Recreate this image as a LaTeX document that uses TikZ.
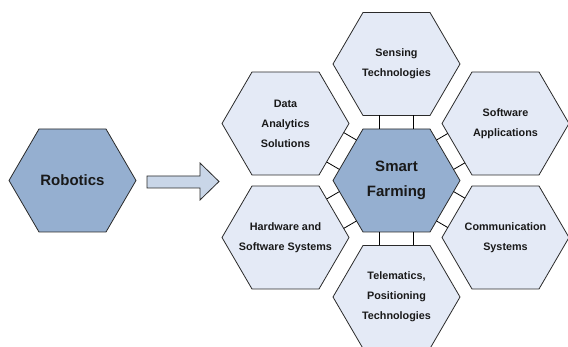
\documentclass[tikz,border=0pt]{standalone}
\usepackage{fontspec}
\setmainfont{Liberation Sans}
\usetikzlibrary{calc,backgrounds}
\definecolor{hexdark}{HTML}{95AFD0}
\definecolor{hexlight}{HTML}{E4EAF6}
\definecolor{arrowfill}{HTML}{C9D6E8}
\definecolor{edgecol}{HTML}{2A2A2A}
\tikzset{
  hexline/.style={draw=edgecol,line width=0.8pt},
  darkhex/.style={hexline,fill=hexdark},
  lighthex/.style={hexline,fill=hexlight},
  hextext/.style={align=center,text=black!90,inner sep=0pt,
    font=\fontsize{10.8}{20}\selectfont\bfseries},
  bigtext/.style={align=center,text=black!90,inner sep=0pt,
    font=\fontsize{15}{25}\selectfont\bfseries},
  bridge/.style={draw=black,line width=0.8pt},
  blockarrow/.style={draw=edgecol,line width=0.8pt,fill=arrowfill}
}
% hexagon around a named node
\newcommand\hexaround[2]{%
  \path (#1.center) ++(-33.5,-51.5) coordinate (#1-tl)
    ++(67,0) coordinate (#1-tr)
    ++(30,51.5) coordinate (#1-r)
    ++(-30,51.5) coordinate (#1-br)
    ++(-67,0) coordinate (#1-bl)
    ++(-30,-51.5) coordinate (#1-l);
  \begin{pgfonlayer}{background}
    \draw[#2] (#1-tl) -- (#1-tr) -- (#1-r) -- (#1-br) -- (#1-bl) -- (#1-l) -- cycle;
  \end{pgfonlayer}}
% two short links across the gap between edge (#1,#2) and edge (#3,#4)
\newcommand\linkpair[4]{%
  \coordinate (mid) at ($(#1)!0.5!(#2)$);
  \coordinate (pa) at ($(mid)!17pt!(#1)$);
  \coordinate (pb) at ($(mid)!17pt!(#2)$);
  \draw[bridge] (pa) -- ($(#3)!(pa)!(#4)$);
  \draw[bridge] (pb) -- ($(#3)!(pb)!(#4)$);}
\begin{document}
\begin{tikzpicture}[x=1pt,y=-1pt]
\useasboundingbox (0,0) rectangle (568,347);

\node[bigtext] (rob) at (72.5,180.5) {Robotics};
\hexaround{rob}{darkhex}

\draw[blockarrow] (147,176) -- (200,176) -- (200,163) -- (219,181.5)
  -- (200,200) -- (200,188) -- (147,188) -- cycle;

\node[bigtext] (sf) at (396.5,180.5) {Smart\\Farming};
\hexaround{sf}{darkhex}

\node[hextext] (sens) at (396.5,64) {Sensing\\Technologies};
\hexaround{sens}{lighthex}
\node[hextext] (tel) at (396.5,297) {Telematics,\\Positioning\\Technologies};
\hexaround{tel}{lighthex}
\node[hextext] (da) at (285.5,123.5) {Data\\Analytics\\Solutions};
\hexaround{da}{lighthex}
\node[hextext] (hw) at (285.5,237.5) {Hardware and\\Software Systems};
\hexaround{hw}{lighthex}
\node[hextext] (sa) at (505.5,123.5) {Software\\Applications};
\hexaround{sa}{lighthex}
\node[hextext] (com) at (505.5,237.5) {Communication\\Systems};
\hexaround{com}{lighthex}

\linkpair{sf-tl}{sf-tr}{sens-bl}{sens-br}
\linkpair{sf-bl}{sf-br}{tel-tl}{tel-tr}
\linkpair{sf-tl}{sf-l}{da-r}{da-br}
\linkpair{sf-l}{sf-bl}{hw-tr}{hw-r}
\linkpair{sf-tr}{sf-r}{sa-bl}{sa-l}
\linkpair{sf-r}{sf-br}{com-l}{com-tl}
\end{tikzpicture}
\end{document}
